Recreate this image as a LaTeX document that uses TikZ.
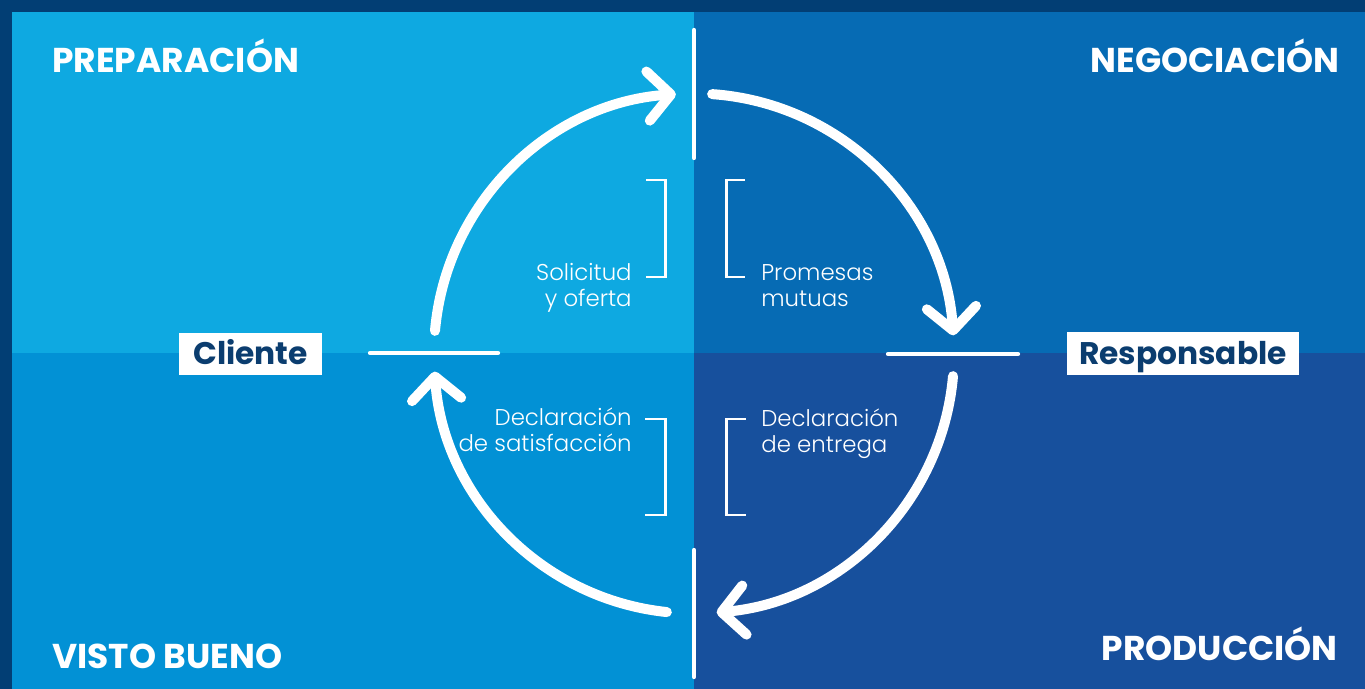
\documentclass[tikz,border=0pt]{standalone}
\usepackage{fontspec}
\setmainfont{Poppins}
\newfontfamily\lightfont{Poppins Light}
\usetikzlibrary{arrows.meta}
\definecolor{navy}{HTML}{023E74}
\definecolor{qprep}{HTML}{0EA9E1}
\definecolor{qnego}{HTML}{066BB4}
\definecolor{qvisto}{HTML}{0291D5}
\definecolor{qprod}{HTML}{17509D}
\definecolor{tagtext}{HTML}{0B3D6F}

\begin{document}
\begin{tikzpicture}[x=0.02cm,y=-0.02cm,
  ttl/.style={text=white,font=\bfseries\fontsize{19.6}{22}\selectfont,inner sep=0pt},
  tag/.style={fill=white,text=tagtext,font=\bfseries\fontsize{17.8}{20}\selectfont,
              minimum height=24pt,inner sep=0pt,text height=12.5pt,text depth=0.5pt},
  txt/.style={text=white,font=\lightfont\fontsize{13}{14.5}\selectfont,inner sep=0pt},
  cyc/.style={white,line width=5.7pt,line cap=round,
              -{Straight Barb[round,length=13pt,width=28pt]}},
  sep/.style={white,line width=2.4pt,line cap=round},
  brk/.style={white,line width=1.7pt}
]
\useasboundingbox (0,0) rectangle (1365,689);
% four quadrants on a dark frame
\fill[navy]   (0,0)    rectangle (1365,689);
\fill[qprep]  (12,12)  rectangle (694,353);
\fill[qnego]  (694,12) rectangle (1365,353);
\fill[qvisto] (12,353) rectangle (694,689);
\fill[qprod]  (694,353) rectangle (1365,689);

% quadrant titles
\node[ttl,anchor=base west] (prep)  at (52,73)   {PREPARACIÓN};
\node[ttl,anchor=base east] (nego)  at (1340,73) {NEGOCIACIÓN};
\node[ttl,anchor=base west] (visto) at (52,668)  {VISTO BUENO};
\node[ttl,anchor=base east] (prod)  at (1338,660){PRODUCCIÓN};

% the two roles
\node[tag,minimum width=81pt]  (cli)  at (250.5,354) {Cliente};
\node[tag,minimum width=132pt] (resp) at (1183,353.5){Responsable};

% phase texts (base = last line)
\node[txt,align=right,anchor=base east] (sol)  at (632,306) {Solicitud\\y oferta};
\node[txt,align=left,anchor=base west]  (prom) at (761,306) {Promesas\\mutuas};
\node[txt,align=right,anchor=base east] (sat)  at (632,451) {Declaración\\de satisfacción};
\node[txt,align=left,anchor=base west]  (ent)  at (761,452) {Declaración\\de entrega};

% brackets
\draw[brk] (646,180) -- (665,180) -- (665,277) -- (646,277);
\draw[brk] (745,180) -- (726,180) -- (726,277) -- (745,277);
\draw[brk] (645,419) -- (665,419) -- (665,515) -- (645,515);
\draw[brk] (746,419) -- (726,419) -- (726,515) -- (746,515);

% separators between the phases
\draw[sep] (694,30)  -- (694,158);
\draw[sep] (694,550) -- (694,677);
\draw[sep] (370,353) -- (498,353);
\draw[sep] (888,354) -- (1018,354);

% the cycle
\coordinate (o) at (694,353.5);
\draw[cyc] ([shift={(-175:260)}]o) arc[start angle=-175,end angle=-94,radius=260];
\draw[cyc] ([shift={(-86:260)}]o)  arc[start angle=-86,end angle=-4,radius=260];
\draw[cyc] ([shift={(5:260)}]o)    arc[start angle=5,end angle=85,radius=260];
\draw[cyc] ([shift={(96:260)}]o)   arc[start angle=96,end angle=176,radius=260];
\end{tikzpicture}
\end{document}
